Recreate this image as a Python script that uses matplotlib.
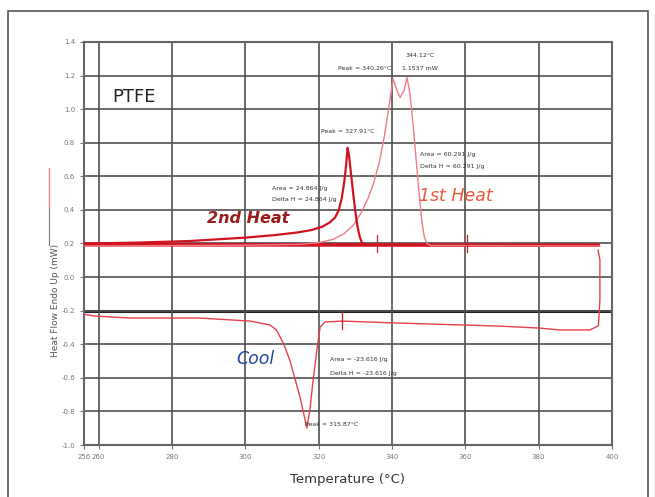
import matplotlib.pyplot as plt
from matplotlib.lines import Line2D
from matplotlib.patches import Rectangle

plt.rcParams['font.family'] = ['DejaVu Sans']

# 2nd heat (dark red)
heat2_t = [256.0, 270.0, 285.0, 300.0, 308.0, 314.0, 318.0, 321.0, 323.0, 324.5, 325.5, 326.3, 327.0, 327.5, 327.9,
           328.3, 328.8, 329.4, 330.0, 330.6, 331.2, 331.8, 332.5]
heat2_y = [0.20, 0.205, 0.215, 0.235, 0.25, 0.265, 0.28, 0.30, 0.325, 0.355, 0.40, 0.47, 0.57, 0.67, 0.77,
           0.72, 0.62, 0.50, 0.39, 0.30, 0.24, 0.205, 0.195]

# common baseline at the bottom of the heating runs
base_t = [256.0, 396.2]
base_y = [0.193, 0.19]

# 1st heat (light red)
heat1_t = [256.0, 300.0, 315.0, 320.0, 324.0, 327.0, 329.5, 331.5, 333.5, 335.0, 336.5, 338.0, 339.2, 340.3, 341.2,
           342.2, 343.3, 344.1, 344.9, 345.7, 346.5, 347.3, 348.1, 348.8, 349.5, 350.5, 396.7]
heat1_y = [0.185, 0.19, 0.195, 0.205, 0.225, 0.26, 0.31, 0.38, 0.47, 0.56, 0.68, 0.85, 1.02, 1.18, 1.12,
           1.07, 1.11, 1.19, 1.09, 0.92, 0.72, 0.52, 0.34, 0.24, 0.20, 0.188, 0.185]

# cooling run (red, thin), listed by temperature
cool_t = [256.0, 259.0, 268.5, 287.6, 301.3, 306.7, 308.5, 310.5, 312.2, 314.9, 316.3, 316.8, 317.6, 318.4, 319.5,
          320.4, 321.7, 326.4, 342.2, 369.4, 380.4, 385.8, 394.0, 396.3, 396.7, 396.7, 396.2]
cool_y = [-0.222, -0.232, -0.244, -0.244, -0.262, -0.285, -0.315, -0.40, -0.50, -0.714, -0.851, -0.899, -0.792,
          -0.631, -0.435, -0.298, -0.268, -0.262, -0.274, -0.292, -0.304, -0.315, -0.315, -0.29, -0.137, 0.101, 0.161]

# integration limit markers
marks_t = [335.9, 360.4, 326.4]
marks_y = [0.2, 0.2, -0.26]

x_ticks = [256, 260, 280, 300, 320, 340, 360, 380, 400]
y_ticks = [1.4, 1.2, 1.0, 0.8, 0.6, 0.4, 0.2, 0.0, -0.2, -0.4, -0.6, -0.8, -1.0]

fig = plt.figure(figsize=(6.55, 4.97), dpi=100)
fig.patches.append(Rectangle((8 / 655, -0.05), 640 / 655, (497 - 11) / 497 + 0.05, transform=fig.transFigure,
                             fill=False, edgecolor='#555555', lw=1.2))
ax = fig.add_axes([84 / 655, 52 / 497, 528 / 655, 403 / 497])

ax.set_xlim(256, 400)
ax.set_ylim(-1.0, 1.4)
ax.set_xticks(x_ticks)
ax.set_xticklabels([str(t) for t in x_ticks])
ax.set_yticks(y_ticks)
ax.set_yticklabels(['%.1f' % v for v in y_ticks])
ax.tick_params(labelsize=5, colors='#777777', length=3, width=0.8)
ax.grid(True, color='#505050', lw=1.2, zorder=0)
ax.axhline(-0.2, color='#222222', lw=2.2, zorder=1)
for s in ax.spines.values():
    s.set_color('#666666')
    s.set_linewidth(1.5)

ax.plot(base_t, base_y, color='#d0141e', lw=2.6, zorder=3)
ax.plot(heat1_t, heat1_y, color='#f27c86', lw=1.0, zorder=3)
ax.plot(cool_t, cool_y, color='#e8404a', lw=1.0, zorder=3)
ax.plot(heat2_t, heat2_y, color='#d0141e', lw=1.6, zorder=4)
for t, v in zip(marks_t, marks_y):
    ax.plot([t, t], [v - 0.05, v + 0.05], color='#c0202a', lw=0.9, zorder=5)

ax.text(263.6, 1.07, 'PTFE', fontsize=13, color='#222222', va='center', ha='left')
ax.text(289.5, 0.35, '2nd Heat', fontsize=11.5, color='#9a1c1c', style='italic', fontweight='bold', va='center', ha='left')
ax.text(347.5, 0.48, '1st Heat', fontsize=12.5, color='#ea5a3c', style='italic', va='center', ha='left')
ax.text(297.5, -0.49, 'Cool', fontsize=12.5, color='#2444a4', style='italic', va='center', ha='left')

small = dict(fontsize=4.5, color='#333333', va='center')
ax.text(339.8, 1.245, 'Peak = 340.26°C', ha='right', **small)
ax.text(347.6, 1.32, '344.12°C', ha='center', **small)
ax.text(347.6, 1.245, '1.1537 mW', ha='center', **small)
ax.text(327.9, 0.866, 'Peak = 327.91°C', ha='center', **small)
ax.text(307.2, 0.53, 'Area = 24.864 J/g', ha='left', **small)
ax.text(307.2, 0.465, 'Delta H = 24.864 J/g', ha='left', **small)
ax.text(347.7, 0.73, 'Area = 60.291 J/g', ha='left', **small)
ax.text(347.7, 0.66, 'Delta H = 60.291 J/g', ha='left', **small)
ax.text(323.0, -0.49, 'Area = -23.616 J/g', ha='left', **small)
ax.text(323.0, -0.575, 'Delta H = -23.616 J/g', ha='left', **small)
ax.text(316.2, -0.875, 'Peak = 315.87°C', ha='left', **small)

ax.set_xlabel('Temperature (°C)', fontsize=9.5, color='#333333', labelpad=9)
fig.text(56 / 655, 1 - 300 / 497, 'Heat Flow Endo Up (mW)', rotation=90, fontsize=6.5, color='#555555',
         ha='center', va='center')
fig.lines.append(Line2D([49 / 655, 49 / 655], [1 - 245 / 497, 1 - 208 / 497], transform=fig.transFigure,
                        color='#777777', lw=0.8))
fig.lines.append(Line2D([49 / 655, 49 / 655], [1 - 208 / 497, 1 - 168 / 497], transform=fig.transFigure,
                        color='#f08a80', lw=1.0))

fig.savefig('out.png', dpi=100)
